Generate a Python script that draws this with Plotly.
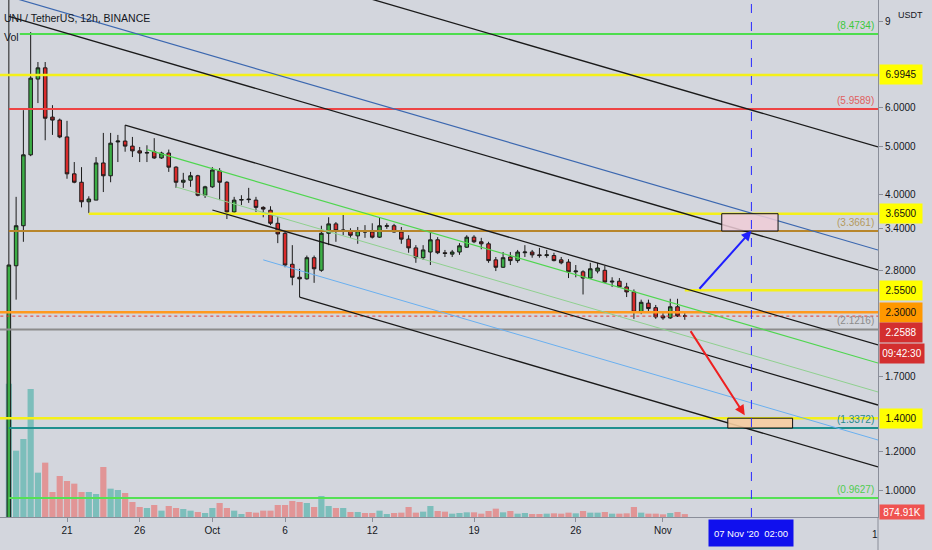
import math
import pandas as pd
import plotly.graph_objects as go

# ---------------- data ----------------
first_candle = pd.Timestamp("2020-09-17 00:00")
n_candles = 94
times = [first_candle + pd.Timedelta(hours=12 * i) for i in range(n_candles)]

opens = [0.60, 2.86, 3.45, 4.81, 6.86, 7.23, 5.74, 5.66, 5.23, 4.40,
         4.23, 3.86, 3.89, 4.63, 4.36, 5.11, 5.13, 5.01, 4.90, 4.85,
         4.88, 4.74, 4.85, 4.54, 4.23, 4.27, 4.36, 3.98, 4.14, 4.46,
         4.23, 3.68, 3.89, 3.91, 3.89, 3.76, 3.71, 3.49, 3.33, 2.88,
         2.71, 2.69, 2.97, 2.80, 3.33, 3.48, 3.37, 3.37, 3.29, 3.36,
         3.35, 3.27, 3.44, 3.45, 3.35, 3.24, 3.11, 2.97, 3.05, 3.23,
         3.04, 3.02, 3.05, 3.12, 3.27, 3.20, 3.17, 2.94, 2.84, 2.98,
         2.93, 3.04, 3.05, 3.01, 3.00, 3.00, 2.94, 2.91, 2.78, 2.78,
         2.70, 2.79, 2.80, 2.65, 2.66, 2.59, 2.53, 2.30, 2.40, 2.35,
         2.26, 2.24, 2.36, 2.26]
highs = [10.5, 3.95, 5.93, 8.55, 7.43, 7.43, 6.07, 5.70, 5.64, 4.65,
         4.54, 3.96, 4.76, 5.33, 5.33, 5.28, 5.53, 5.23, 4.99, 5.03,
         5.20, 4.88, 4.93, 4.56, 4.42, 4.44, 4.38, 4.16, 4.54, 4.52,
         4.25, 3.95, 3.98, 4.12, 3.95, 3.78, 3.78, 3.59, 3.35, 3.15,
         2.82, 3.00, 3.00, 3.45, 3.59, 3.51, 3.66, 3.41, 3.43, 3.46,
         3.49, 3.59, 3.49, 3.48, 3.43, 3.30, 3.15, 3.15, 3.38, 3.27,
         3.08, 3.08, 3.18, 3.30, 3.30, 3.26, 3.20, 2.98, 3.05, 3.05,
         3.08, 3.15, 3.08, 3.11, 3.08, 3.04, 2.98, 2.95, 2.87, 2.80,
         2.90, 2.90, 2.86, 2.71, 2.70, 2.64, 2.56, 2.44, 2.44, 2.38,
         2.29, 2.45, 2.45, 2.29]
lows = [0.50, 2.44, 3.20, 4.78, 6.13, 5.15, 5.28, 5.20, 4.30, 4.21,
        3.76, 3.66, 3.89, 4.04, 4.23, 4.65, 4.88, 4.76, 4.65, 4.65,
        4.72, 4.72, 4.44, 4.12, 4.12, 4.14, 3.96, 3.93, 4.12, 3.89,
        3.56, 3.66, 3.80, 3.84, 3.68, 3.59, 3.46, 3.18, 2.84, 2.61,
        2.47, 2.68, 2.64, 2.78, 3.15, 3.20, 3.30, 3.26, 3.17, 3.26,
        3.25, 3.26, 3.40, 3.34, 3.17, 3.04, 2.90, 2.94, 2.87, 3.02,
        2.98, 2.98, 3.01, 3.11, 3.18, 3.09, 2.90, 2.79, 2.83, 2.87,
        2.90, 2.98, 2.97, 2.97, 2.97, 2.92, 2.88, 2.70, 2.71, 2.50,
        2.69, 2.76, 2.64, 2.59, 2.58, 2.47, 2.23, 2.28, 2.30, 2.23,
        2.22, 2.23, 2.25, 2.22]
closes = [2.87, 3.45, 4.81, 6.89, 7.23, 5.71, 5.66, 5.23, 4.40, 4.23,
          3.86, 3.91, 4.63, 4.36, 5.08, 5.13, 5.01, 4.90, 4.85, 4.86,
          4.74, 4.85, 4.54, 4.23, 4.27, 4.36, 3.98, 4.14, 4.48, 4.23,
          3.68, 3.89, 3.90, 3.90, 3.76, 3.73, 3.49, 3.32, 2.87, 2.71,
          2.69, 2.97, 2.82, 3.33, 3.48, 3.37, 3.38, 3.30, 3.37, 3.35,
          3.27, 3.45, 3.45, 3.35, 3.24, 3.11, 2.97, 3.08, 3.23, 3.04,
          3.03, 3.05, 3.14, 3.27, 3.20, 3.17, 2.93, 2.84, 2.97, 2.93,
          3.05, 3.05, 3.01, 3.00, 3.01, 2.93, 2.90, 2.78, 2.79, 2.70,
          2.82, 2.83, 2.65, 2.66, 2.59, 2.53, 2.30, 2.41, 2.34, 2.25,
          2.24, 2.36, 2.26, 2.2588]
volumes_m = [40.0, 19.9, 23.4, 38.4, 13.3, 16.3, 7.5, 12.3, 10.8, 10.0,
             7.5, 7.5, 6.9, 15.0, 8.5, 8.1, 7.2, 4.5, 3.0, 2.7,
             3.6, 1.9, 3.3, 2.7, 2.4, 1.9, 1.5, 1.2, 2.7, 4.2,
             2.7, 1.9, 0.9, 1.5, 1.3, 1.9, 1.9, 3.6, 3.6, 4.8,
             4.5, 4.2, 3.0, 6.3, 3.3, 2.7, 2.7, 1.5, 1.5, 1.2,
             1.2, 1.9, 0.9, 1.2, 1.3, 3.0, 1.3, 1.6, 3.3, 1.8,
             1.6, 1.0, 1.2, 1.4, 1.4, 1.0, 1.8, 2.5, 1.4, 1.8,
             1.0, 1.2, 0.9, 0.9, 1.0, 1.1, 1.0, 1.3, 1.1, 1.8,
             1.3, 1.3, 1.5, 1.0, 1.0, 1.1, 3.0, 1.3, 1.0, 1.0,
             0.8, 1.2, 1.5, 0.87]

# horizontal levels
level_prices = [8.4734, 6.9945, 5.9589, 3.65, 3.3661, 2.55, 2.30, 2.1216, 1.40, 1.3372, 0.9627]
level_starts = ["2020-09-17 18:00", "2020-09-16 00:00", "2020-09-17 00:00", "2020-09-22 12:00",
                "2020-09-17 00:00", "2020-11-02 12:00", "2020-09-16 00:00", "2020-09-16 00:00",
                "2020-09-16 00:00", "2020-09-17 00:00", "2020-09-17 00:00"]
level_colors = ["#4ddd4d", "#f4f018", "#ee4444", "#f4f018", "#b8862b", "#f4f018",
                "#ff9a1f", "#8c8c8c", "#f4f018", "#1f8f8f", "#55e055"]
level_widths = [2, 2.5, 2, 2.5, 2, 2.5, 2.5, 2, 2.5, 2, 2]

# parenthesised level captions
caption_prices = [8.4734, 5.9589, 3.3661, 2.1216, 1.3372, 0.9627]
caption_colors = ["#3cc83c", "#e06060", "#b49a60", "#8c8c8c", "#2a8a8a", "#50cc50"]

# sloped channel lines
trend_x0 = ["2020-10-10 00:00", "2020-09-17 00:00", "2020-09-25 00:00", "2020-10-01 00:00",
            "2020-10-07 00:00", "2020-09-17 00:00", "2020-09-26 12:00", "2020-09-28 12:00",
            "2020-10-04 12:00"]
trend_p0 = [10.37, 9.20, 5.53, 3.714, 2.47, 10.10, 4.93, 4.137, 2.94]
trend_x1 = ["2020-11-15 19:00"] * 9
trend_p1 = [4.99, 2.804, 1.973, 1.489, 1.114, 3.079, 1.813, 1.583, 1.264]
trend_colors = ["#1a1a1a", "#1a1a1a", "#1a1a1a", "#1a1a1a", "#1a1a1a",
                "#3c68b0", "#4fd64f", "#8fd08f", "#6ab0f0"]
trend_widths = [1.3, 1.3, 1.3, 1.3, 1.3, 1.2, 1.2, 1.0, 1.0]

# target boxes
rect_x0 = ["2020-11-05 01:00", "2020-11-05 11:00"]
rect_x1 = ["2020-11-08 22:00", "2020-11-09 22:00"]
rect_top = [3.65, 1.40]
rect_bottom = [3.3661, 1.3372]
rect_fill = ["rgba(238,205,215,0.85)", "rgba(247,205,160,0.9)"]

# arrows
arrow_x0 = ["2020-11-03 10:00", "2020-11-02 20:00"]
arrow_p0 = [2.55, 2.12]
arrow_x1 = ["2020-11-07 02:00", "2020-11-06 15:00"]
arrow_p1 = [3.37, 1.42]
arrow_colors = ["#1f1fff", "#ee2020"]

# axis labels
x_tick_dates = ["2020-09-21", "2020-09-26", "2020-10-01", "2020-10-06", "2020-10-12",
                "2020-10-19", "2020-10-26", "2020-11-01"]
x_tick_text = ["21", "26", "Oct", "6", "12", "19", "26", "Nov"]
y_tick_vals = [1.0, 1.2, 1.7, 2.8, 3.4, 4.0, 5.0, 6.0, 9.0]
y_tick_text = ["1.0000", "1.2000", "1.7000", "2.8000", "3.4000", "4.0000", "5.0000", "6.0000", "9"]

# right-axis value tags
tag_prices = [6.9945, 3.65, 2.55, 2.30, 2.2588, 1.40]
tag_text = ["6.9945", "3.6500", "2.5500", "2.3000", "2.2588", "1.4000"]
tag_bg = ["#ffff00", "#ffff00", "#ffff00", "#ff9800", "#d32f2f", "#ffff00"]
tag_fg = ["#111111", "#111111", "#111111", "#111111", "#ffffff", "#111111"]
tag_shift = [0, 0, 0, 0, -16, 0]

x_range = ["2020-09-16 09:23", "2020-11-15 19:00"]
price_range = [0.8812, 9.936]
vol_axis_max = 155.1
marker_time = "2020-11-07 02:00"

# ---------------- styling ----------------
BG = "#d3d6dd"
AX = "#8a8e99"
TXT = "#131722"
FONT = "Liberation Sans, Arial, sans-serif"

fig = go.Figure()

vol_colors = ["rgba(38,166,154,0.5)" if c >= o else "rgba(239,83,80,0.5)" for o, c in zip(opens, closes)]
fig.add_trace(go.Bar(x=times, y=volumes_m, marker=dict(color=vol_colors, line=dict(width=0)),
                     xaxis="x", yaxis="y", hoverinfo="skip"))

fig.add_trace(go.Candlestick(
    x=times, open=opens, high=highs, low=lows, close=closes,
    xaxis="x", yaxis="y2", whiskerwidth=0,
    increasing=dict(line=dict(color="#1a1a1a", width=1), fillcolor="#3cae46"),
    decreasing=dict(line=dict(color="#1a1a1a", width=1), fillcolor="#d92b2b"),
    hoverinfo="skip"))

for p, s, c, w in zip(level_prices, level_starts, level_colors, level_widths):
    fig.add_trace(go.Scatter(x=[s, "2020-11-16 12:00"], y=[p, p], mode="lines",
                             line=dict(color=c, width=w), xaxis="x", yaxis="y2", hoverinfo="skip"))

fig.add_trace(go.Scatter(x=["2020-09-16 00:00", "2020-11-16 12:00"], y=[closes[-1], closes[-1]],
                         mode="lines", line=dict(color="#e53935", width=1, dash="dot"),
                         xaxis="x", yaxis="y2", hoverinfo="skip"))

for a, pa, b, pb, c, w in zip(trend_x0, trend_p0, trend_x1, trend_p1, trend_colors, trend_widths):
    fig.add_trace(go.Scatter(x=[a, b], y=[pa, pb], mode="lines", line=dict(color=c, width=w),
                             xaxis="x", yaxis="y2", hoverinfo="skip"))

for a, b, t, bt, f in zip(rect_x0, rect_x1, rect_top, rect_bottom, rect_fill):
    fig.add_trace(go.Scatter(x=[a, b, b, a, a], y=[t, t, bt, bt, t], mode="lines", fill="toself",
                             fillcolor=f, line=dict(color="#111111", width=1),
                             xaxis="x", yaxis="y2", hoverinfo="skip"))

annotations = []
for a, pa, b, pb, c in zip(arrow_x0, arrow_p0, arrow_x1, arrow_p1, arrow_colors):
    annotations.append(dict(x=b, y=math.log10(pb), ax=a, ay=math.log10(pa),
                            xref="x", yref="y2", axref="x", ayref="y2", text="",
                            showarrow=True, arrowhead=2, arrowsize=1, arrowwidth=2,
                            arrowcolor=c, standoff=0))

for p, c in zip(caption_prices, caption_colors):
    annotations.append(dict(x=1, xref="paper", xanchor="right", xshift=-2,
                            y=math.log10(p), yref="y2", yanchor="bottom", yshift=1,
                            text="(%.4f)" % p, showarrow=False,
                            font=dict(size=10, color=c, family=FONT)))

for p, t, bg, fg, sh in zip(tag_prices, tag_text, tag_bg, tag_fg, tag_shift):
    annotations.append(dict(x=1, xref="paper", xanchor="left", xshift=1,
                            y=math.log10(p), yref="y2", yanchor="middle", yshift=sh,
                            text=t, showarrow=False, bgcolor=bg, borderpad=2, width=38, height=15,
                            font=dict(size=10, color=fg, family=FONT)))
annotations.append(dict(x=1, xref="paper", xanchor="left", xshift=1,
                        y=math.log10(closes[-1]), yref="y2", yanchor="middle", yshift=-37,
                        text="09:42:30", showarrow=False, bgcolor="#d32f2f", borderpad=2,
                        width=40, height=15, font=dict(size=10, color="#ffffff", family=FONT)))
annotations.append(dict(x=1, xref="paper", xanchor="left", xshift=1,
                        y=0, yref="paper", yanchor="middle", yshift=5,
                        text="874.91K", showarrow=False, bgcolor="#ef5350", borderpad=1,
                        width=42, height=12, font=dict(size=10, color="#ffffff", family=FONT)))
annotations.append(dict(x=1, xref="paper", xanchor="left", xshift=18, y=1, yref="paper",
                        yanchor="top", yshift=-8, text="USDT", showarrow=False,
                        font=dict(size=9, color=TXT, family=FONT)))
annotations.append(dict(x=marker_time, xref="x", y=0, yref="paper", yanchor="top", yshift=-2,
                        text="07 Nov '20 &nbsp;02:00", showarrow=False, bgcolor="#1010ee",
                        borderpad=2, width=80, height=22,
                        font=dict(size=9.5, color="#ffffff", family=FONT)))
annotations.append(dict(x=1, xref="paper", xanchor="right", xshift=2, y=0, yref="paper",
                        yanchor="top", yshift=-10, text="1", showarrow=False,
                        font=dict(size=10, color=TXT, family=FONT)))
annotations.append(dict(x=0, xref="paper", xanchor="left", xshift=2, y=1, yref="paper",
                        yanchor="top", yshift=-10, text="UNI / TetherUS, 12h, BINANCE",
                        showarrow=False, font=dict(size=10.5, color=TXT, family=FONT)))
annotations.append(dict(x=0, xref="paper", xanchor="left", xshift=2, y=1, yref="paper",
                        yanchor="top", yshift=-29, text="Vol",
                        showarrow=False, font=dict(size=10.5, color=TXT, family=FONT)))

shapes = [
    dict(type="line", xref="x", yref="paper", x0=marker_time, x1=marker_time, y0=0, y1=1,
         line=dict(color="#2a2aff", width=1, dash="dash")),
    dict(type="line", xref="paper", yref="paper", x0=1, x1=1, y0=-0.07, y1=0,
         line=dict(color=AX, width=1)),
]

fig.update_layout(
    width=932, height=550,
    margin=dict(l=0, r=54, t=0, b=33),
    paper_bgcolor=BG, plot_bgcolor=BG,
    showlegend=False, bargap=0.15,
    font=dict(family=FONT, color=TXT, size=10),
    xaxis=dict(type="date", range=x_range, tickvals=x_tick_dates, ticktext=x_tick_text,
               showgrid=False, zeroline=False, showline=True, linecolor=AX, linewidth=1,
               ticks="outside", ticklen=4, tickcolor=AX,
               tickfont=dict(size=10, color=TXT, family=FONT),
               rangeslider=dict(visible=False), fixedrange=True),
    yaxis=dict(range=[0, vol_axis_max], visible=False, fixedrange=True),
    yaxis2=dict(type="log", overlaying="y", side="right",
                range=[math.log10(price_range[0]), math.log10(price_range[1])],
                tickvals=y_tick_vals, ticktext=y_tick_text,
                showgrid=False, zeroline=False, showline=True, linecolor=AX, linewidth=1,
                ticks="outside", ticklen=4, tickcolor=AX,
                tickfont=dict(size=10, color=TXT, family=FONT), fixedrange=True),
    annotations=annotations,
    shapes=shapes,
)

fig.write_html("out.html", config={"displayModeBar": False},
               post_script="document.body.style.margin='0px';")
